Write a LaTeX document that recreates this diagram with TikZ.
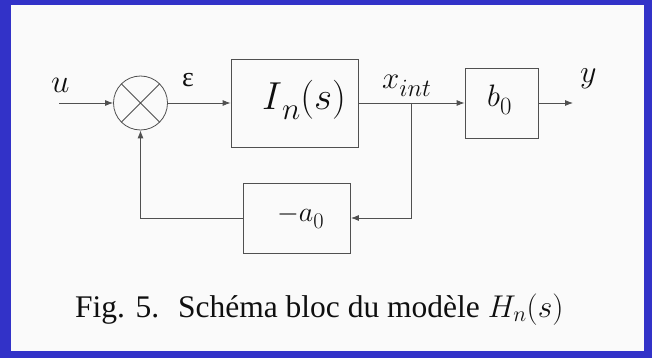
\RequirePackage{fix-cm}
\documentclass[tikz,border=0pt]{standalone}
\usepackage{fontspec}
\setmainfont{Liberation Serif}
\usepackage{graphicx}
\usetikzlibrary{arrows.meta}
\definecolor{frameblue}{RGB}{50,50,200}
\definecolor{paper}{RGB}{250,250,250}
\definecolor{ink}{RGB}{80,80,80}
\definecolor{txt}{RGB}{15,15,15}
\newcommand{\lsub}[1]{\raisebox{-0.25em}{\scalebox{0.8}{#1}}}
\begin{document}
\begin{tikzpicture}[x=1pt,y=-1pt,
  blk/.style={draw=ink,line width=0.8pt,inner sep=0pt},
  conn/.style={draw=ink,line width=0.8pt},
  arr/.style={conn,-{Latex[length=8pt,width=6pt]}},
  lbl/.style={inner sep=0pt,anchor=base west,text=txt}]
\useasboundingbox (0,0) rectangle (652,358);
\fill[frameblue] (0,0) rectangle (652,358);
\fill[paper] (11,5) rectangle (644,351);
% blocks
\node[blk,circle,minimum size=54pt] (sum) at (140.5,103) {};
\draw[conn] (sum.north west) -- (sum.south east) (sum.north east) -- (sum.south west);
\node[blk,minimum width=127pt,minimum height=88pt] (In) at (294.5,103) {};
\node[blk,minimum width=73pt,minimum height=70pt] (b0) at (501.5,103) {};
\node[blk,minimum width=107pt,minimum height=70pt] (a0) at (297,218) {};
% labels
\node[lbl,font=\fontsize{39}{39}\selectfont] (tIn) at (262,110) {$I$\lsub{$n$}$(s)$};
\node[lbl,font=\fontsize{31}{31}\selectfont] (tb0) at (487,107) {$b$\lsub{$0$}};
\node[lbl,font=\fontsize{28}{28}\selectfont] (ta0) at (277,221.7) {$-a$\lsub{$0$}};
\node[lbl,font=\fontsize{33}{33}\selectfont] (tu) at (51,93) {$u$};
\node[lbl,font=\fontsize{28}{28}\selectfont] (teps) at (182,87) {ε};
\node[lbl,font=\fontsize{31}{31}\selectfont] (tx) at (382,88.3) {$x$\lsub{$int$}};
\node[lbl,font=\fontsize{32}{32}\selectfont] (ty) at (580,83) {$y$};
\node[lbl,font=\fontsize{31.5}{31.5}\selectfont] (cap) at (75,317) {Fig. 5.\hspace{0.6em}Schéma bloc du modèle $H_n(s)$};
% connectors
\coordinate (uin) at (59,103);
\coordinate (junc) at (411.7,103);
\coordinate (yout) at (573,103);
\draw[arr] (uin) -- (sum.west);
\draw[arr] (sum.east) -- (In.west);
\draw[conn] (In.east) -- (junc);
\draw[arr] (junc) -- (b0.west);
\draw[arr] (b0.east) -- (yout);
\draw[arr] (junc) |- (a0.east);
\draw[arr] (a0.west) -| (sum.south);
\end{tikzpicture}
\end{document}
